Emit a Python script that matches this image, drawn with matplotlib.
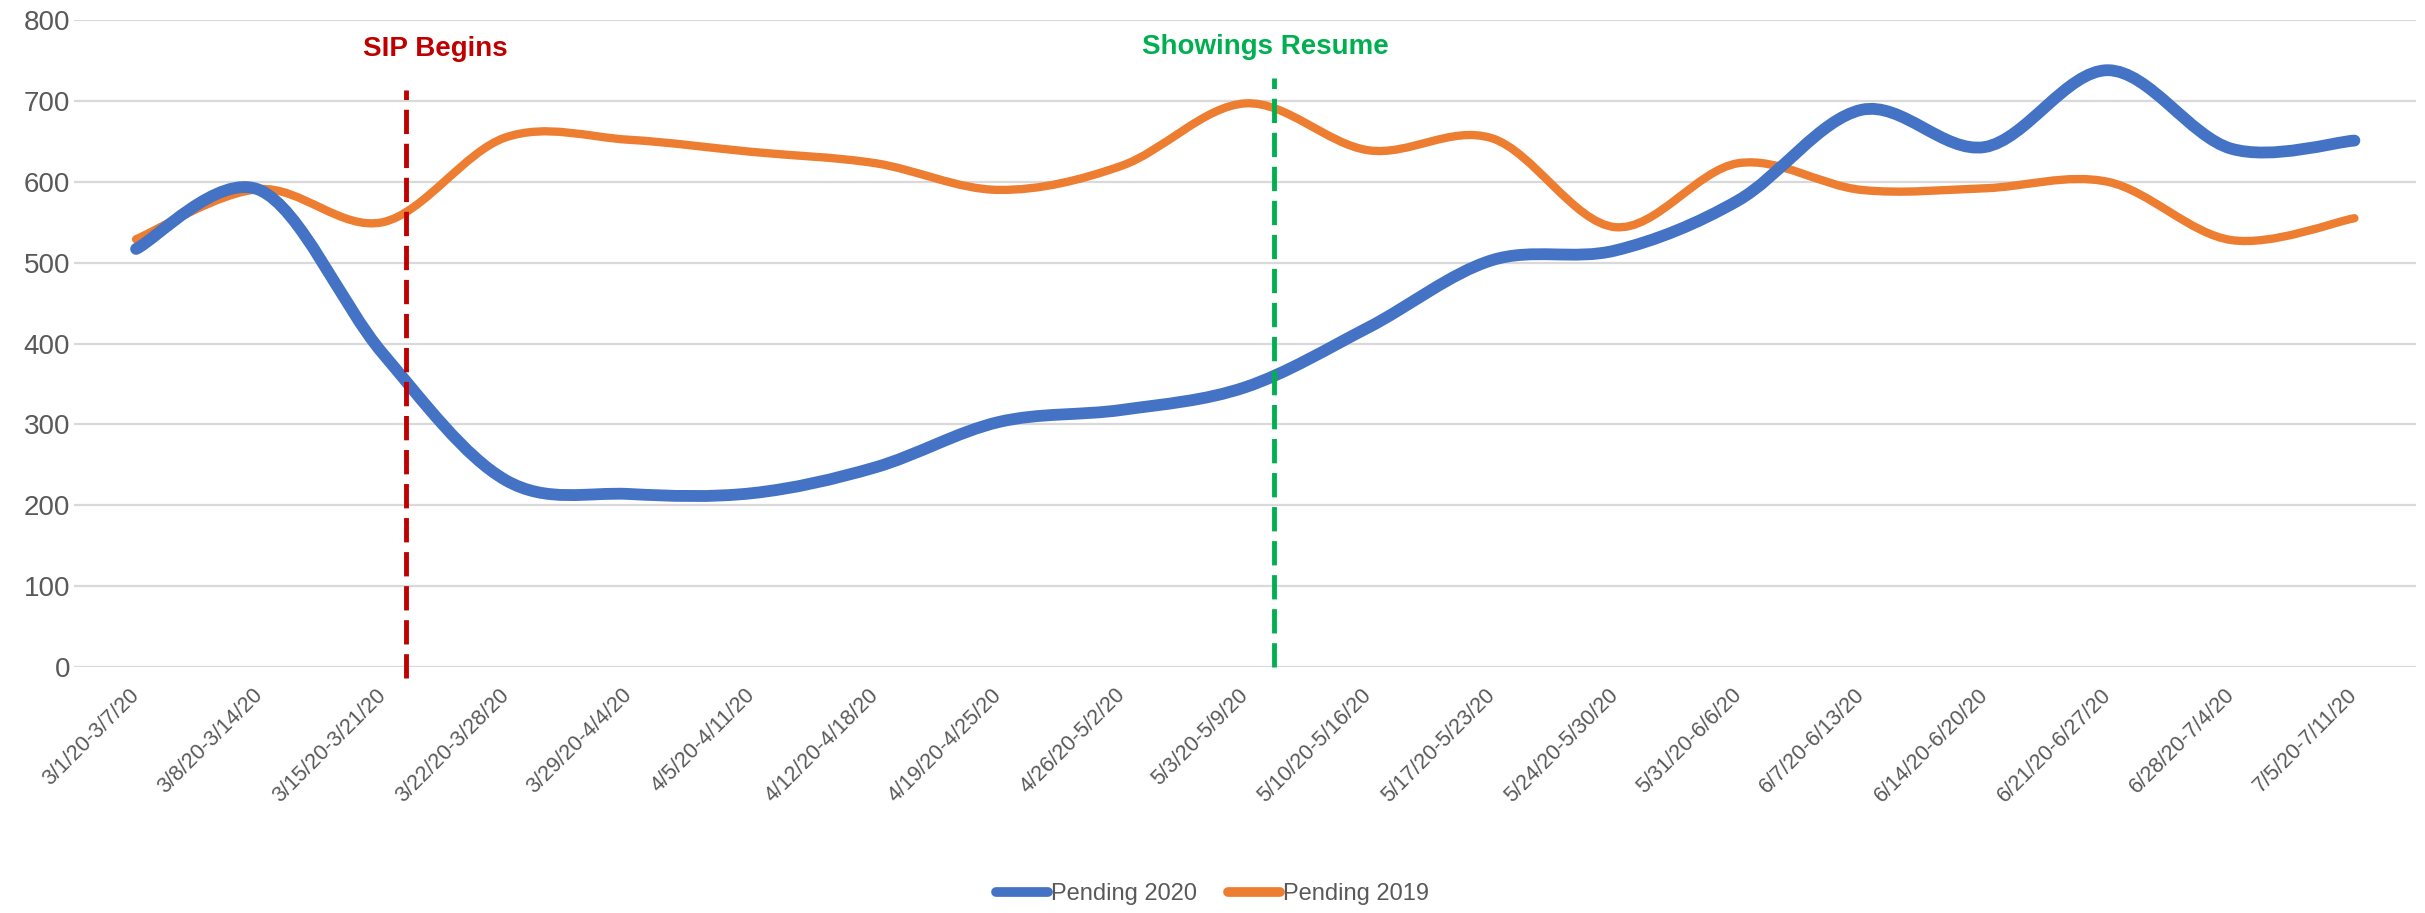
import numpy as np
import matplotlib
matplotlib.use("Agg")
import matplotlib.pyplot as plt
from matplotlib.path import Path
from matplotlib.patches import PathPatch
from matplotlib.lines import Line2D

# weekly pending sales
weeks = ["3/1/20-3/7/20", "3/8/20-3/14/20", "3/15/20-3/21/20", "3/22/20-3/28/20",
         "3/29/20-4/4/20", "4/5/20-4/11/20", "4/12/20-4/18/20", "4/19/20-4/25/20",
         "4/26/20-5/2/20", "5/3/20-5/9/20", "5/10/20-5/16/20", "5/17/20-5/23/20",
         "5/24/20-5/30/20", "5/31/20-6/6/20", "6/7/20-6/13/20", "6/14/20-6/20/20",
         "6/21/20-6/27/20", "6/28/20-7/4/20", "7/5/20-7/11/20"]
pending_2020 = [517, 590, 388, 231, 214, 215, 247, 303, 318, 346, 420, 503,
                515, 577, 689, 643, 738, 641, 651]
pending_2019 = [529, 591, 550, 655, 652, 637, 623, 590, 620, 697, 639, 654,
                544, 623, 590, 592, 600, 528, 555]

BLUE = "#4472C4"
ORANGE = "#ED7D31"
RED = "#C00000"
GREEN = "#00B050"
GREY = "#595959"

plt.rcParams["font.family"] = ["Liberation Sans", "DejaVu Sans"]


def smooth_path(x, y):
    # Excel-style smoothed line: cubic bezier through every point
    pts = np.column_stack([x, y]).astype(float)
    n = len(pts)
    verts = [pts[0]]
    codes = [Path.MOVETO]
    for i in range(n - 1):
        p0 = pts[i - 1] if i > 0 else pts[i]
        p1, p2 = pts[i], pts[i + 1]
        p3 = pts[i + 2] if i + 2 < n else pts[i + 1]
        verts += [p1 + (p2 - p0) / 6, p2 - (p3 - p1) / 6, p2]
        codes += [Path.CURVE4] * 3
    return Path(verts, codes)


fig = plt.figure(figsize=(24.25, 9.13), dpi=100)
ax = fig.add_axes([0.0307, 0.2694, 0.9656, 0.7086])

x = np.arange(len(weeks))
for vals, col, lw in [(pending_2019, ORANGE, 6), (pending_2020, BLUE, 8.5)]:
    ax.add_patch(PathPatch(smooth_path(x, vals), fill=False, edgecolor=col, lw=lw,
                           capstyle="round", joinstyle="round", zorder=3))

ax.set_xlim(-0.5, len(weeks) - 0.5)
ax.set_ylim(0, 800)
ax.set_yticks(range(0, 801, 100))
ax.set_xticks(x)
ax.set_xticklabels(weeks, rotation=45, ha="right", va="center", rotation_mode="anchor")
ax.tick_params(axis="x", length=0, pad=18, labelsize=15.5, labelcolor=GREY)
ax.tick_params(axis="y", length=0, pad=3, labelsize=20, labelcolor=GREY)
ax.grid(axis="y", color="#D9D9D9", lw=1.6)
ax.set_axisbelow(True)
for s in ax.spines.values():
    s.set_visible(False)

# event markers
ax.plot([2.19, 2.19], [-14, 714], color=RED, lw=3.5, dashes=(5, 2), clip_on=False, zorder=4)
ax.plot([9.23, 9.23], [0, 729], color=GREEN, lw=3.5, dashes=(5, 2), clip_on=False, zorder=4)
ax.text(2.43, 764, "SIP Begins", color=RED, fontsize=20, fontweight="bold",
        ha="center", va="center")
ax.text(9.16, 767, "Showings Resume", color=GREEN, fontsize=20, fontweight="bold",
        ha="center", va="center")

handles = [Line2D([], [], color=BLUE, lw=7, solid_capstyle="round"),
           Line2D([], [], color=ORANGE, lw=7, solid_capstyle="round")]
fig.legend(handles, ["Pending 2020", "Pending 2019"], loc="center", bbox_to_anchor=(0.5, 0.021),
           ncol=2, frameon=False, fontsize=17, labelcolor=GREY, handlelength=2.2,
           handletextpad=0.15, columnspacing=1.3)

fig.savefig("out.png", dpi=100)
